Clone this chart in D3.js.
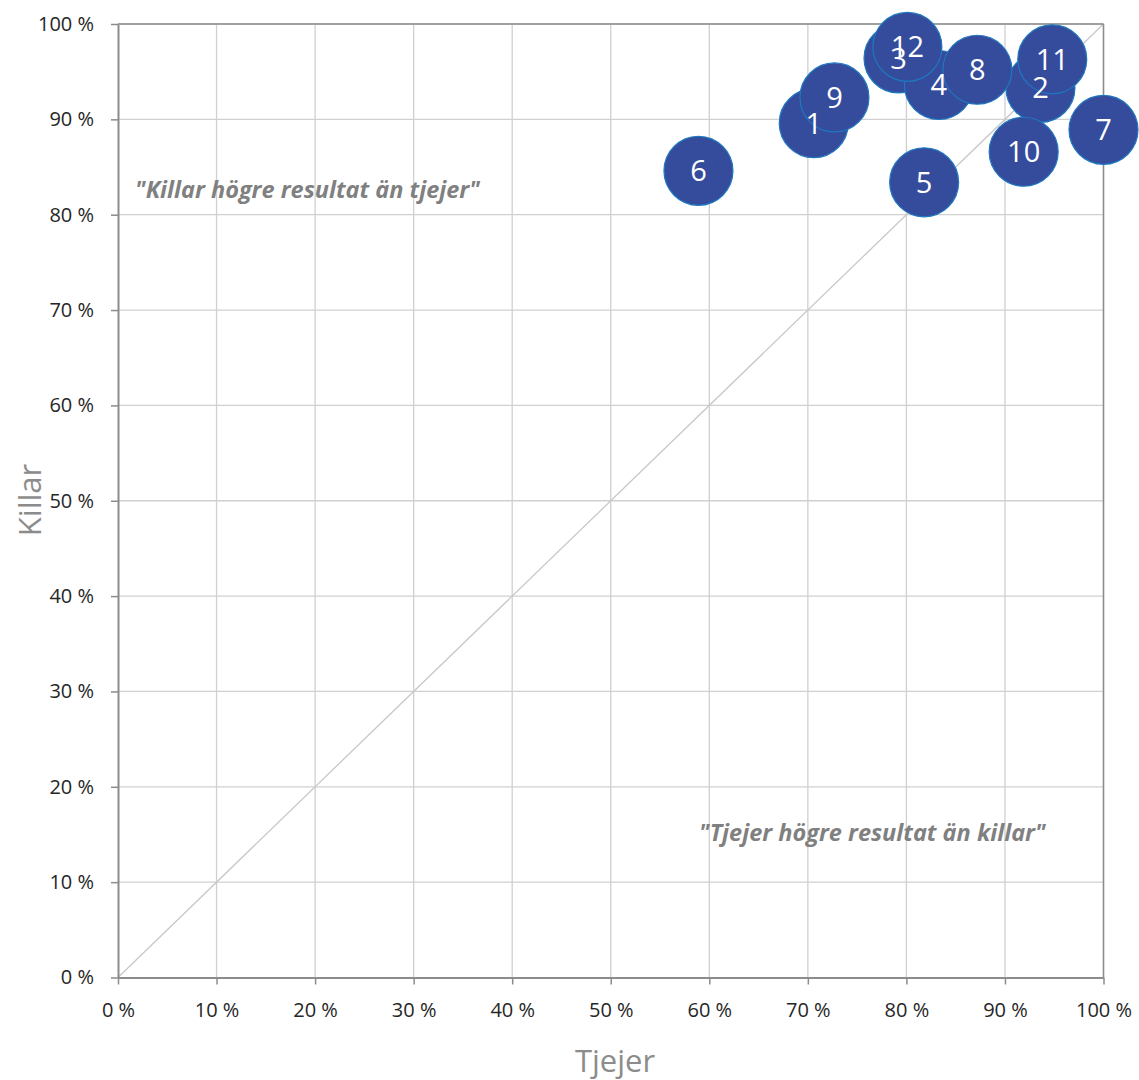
<!DOCTYPE html>
<html><head><meta charset="utf-8">
<script src="https://cdn.jsdelivr.net/npm/d3@7"></script>
<style>body{margin:0;background:#fff}svg{display:block}</style>
</head><body>
<script>
const labels = ["1","2","3","4","5","6","7","8","9","10","11","12"];
const tjejer = [70.6, 93.6, 79.2, 83.3, 81.8, 58.9, 100.0, 87.2, 72.7, 91.9, 94.8, 80.1];
const killar = [89.6, 93.3, 96.4, 93.6, 83.4, 84.6, 88.9, 95.2, 92.3, 86.6, 96.3, 97.6];
const ticks = [0,10,20,30,40,50,60,70,80,90,100];
const tickLabels = ticks.map(t => t + " %");
const xTitle = "Tjejer", yTitle = "Killar";
const noteUpper = "\"Killar högre resultat än tjejer\"";
const noteLower = "\"Tjejer högre resultat än killar\"";

const W = 1139, H = 1080;
const svg = d3.select("body").append("svg").attr("width", W).attr("height", H);
const x = d3.scaleLinear().domain([0,100]).range([118, 1103.5]);
const y = d3.scaleLinear().domain([0,100]).range([977.5, 24]);
const font = "'Open Sans', 'Noto Sans', sans-serif";

// gridlines
svg.append("g").selectAll("line").data(ticks.slice(1)).join("line")
  .attr("x1", d => x(d)).attr("x2", d => x(d)).attr("y1", y(0)).attr("y2", y(100))
  .attr("stroke", "#d0d0d0").attr("stroke-width", 1.3);
svg.append("g").selectAll("line").data(ticks.slice(1)).join("line")
  .attr("x1", x(0)).attr("x2", x(100)).attr("y1", d => y(d)).attr("y2", d => y(d))
  .attr("stroke", "#d0d0d0").attr("stroke-width", 1.3);

// diagonal
svg.append("line").attr("x1", x(0)).attr("y1", y(0)).attr("x2", x(100)).attr("y2", y(100))
  .attr("stroke", "#c8c8c8").attr("stroke-width", 1.3);

// plot border (top/right)
svg.append("line").attr("x1", x(0)).attr("x2", x(100)).attr("y1", y(100)).attr("y2", y(100)).attr("stroke", "#8c8c8c").attr("stroke-width", 1.5);
svg.append("line").attr("x1", x(100)).attr("x2", x(100)).attr("y1", y(0)).attr("y2", y(100)).attr("stroke", "#8c8c8c").attr("stroke-width", 1.5);

// axes
const xAxis = d3.axisBottom(x).tickValues(ticks).tickFormat((d,i) => tickLabels[i]).tickSizeInner(7).tickSizeOuter(0).tickPadding(18);
const yAxis = d3.axisLeft(y).tickValues(ticks).tickFormat((d,i) => tickLabels[i]).tickSizeInner(7).tickSizeOuter(0).tickPadding(17);
const gx = svg.append("g").attr("transform", `translate(0,${y(0)})`).call(xAxis);
const gy = svg.append("g").attr("transform", `translate(${x(0)},0)`).call(yAxis);
[gx, gy].forEach(g => {
  g.select(".domain").attr("stroke", "#8c8c8c").attr("stroke-width", 2);
  g.selectAll(".tick line").attr("stroke", "#8c8c8c").attr("stroke-width", 1.5);
  g.selectAll(".tick text").attr("fill", "#262626").style("font-family", font).style("font-size", "20px");
});

// axis titles
svg.append("text").attr("x", 615).attr("y", 1072).attr("text-anchor", "middle")
  .attr("fill", "#8c8c8c").style("font-family", font).style("font-size", "31px").text(xTitle);
svg.append("text").attr("transform", "translate(41,500) rotate(-90)").attr("text-anchor", "middle")
  .attr("fill", "#8c8c8c").style("font-family", font).style("font-size", "31px").text(yTitle);

// annotations
svg.append("text").attr("x", 135).attr("y", 198).attr("fill", "#808080")
  .style("font-family", font).style("font-size", "23.5px").style("font-weight", "bold").style("font-style", "italic").text(noteUpper);
svg.append("text").attr("x", 699).attr("y", 841).attr("fill", "#808080")
  .style("font-family", font).style("font-size", "23.5px").style("font-weight", "bold").style("font-style", "italic").text(noteLower);

// bubbles
const data = labels.map((l,i) => ({l, tx: tjejer[i], ky: killar[i]}));
svg.append("g").selectAll("circle").data(data).join("circle")
  .attr("cx", d => x(d.tx)).attr("cy", d => y(d.ky)).attr("r", 34.5)
  .attr("fill", "#354c9c").attr("stroke", "#1e78c0").attr("stroke-width", 1.2);
svg.append("g").selectAll("text").data(data).join("text")
  .attr("x", d => x(d.tx)).attr("y", d => y(d.ky)).attr("dy", "0.36em").attr("text-anchor", "middle")
  .attr("fill", "#ffffff").style("font-family", font).style("font-size", "29px").text(d => d.l);
</script>
</body></html>
